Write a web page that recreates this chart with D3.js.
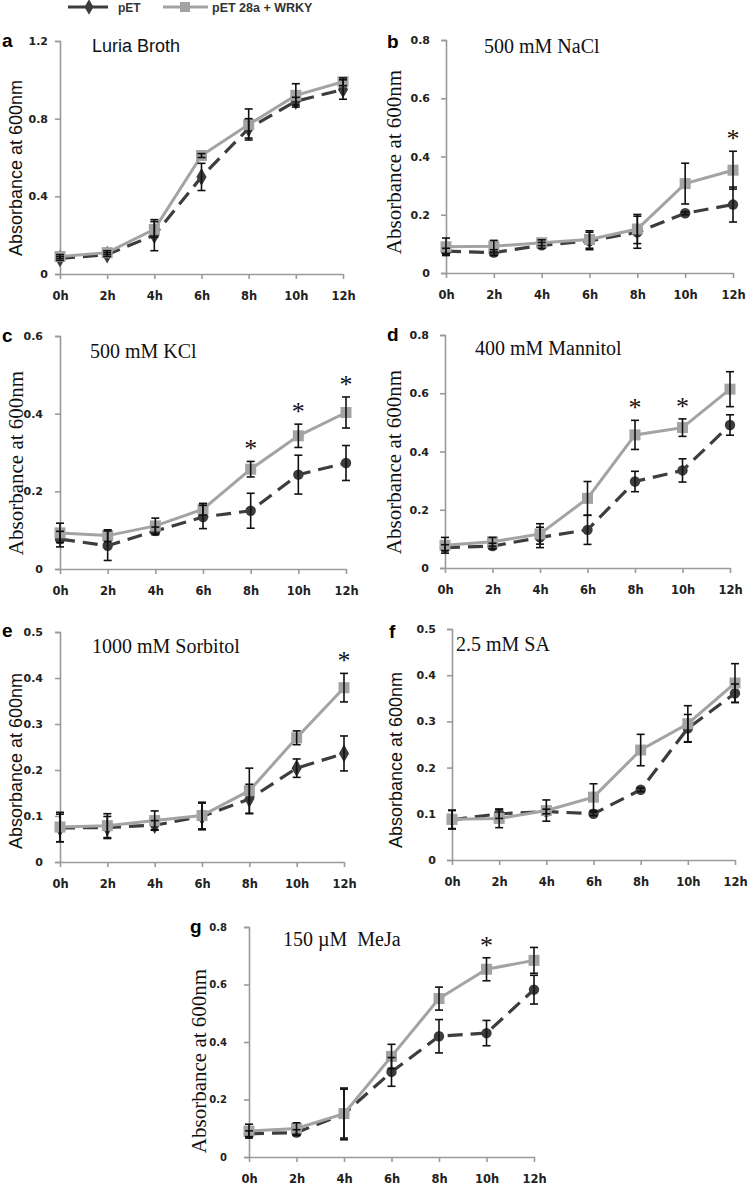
<!DOCTYPE html>
<html><head><meta charset="utf-8">
<script src="https://cdn.jsdelivr.net/npm/d3@7/dist/d3.min.js"></script>
<style>body{margin:0;background:#fff} svg{display:block}</style>
</head><body>
<svg id="c" width="749" height="1186"></svg>
<script>
// ---------- DATA ----------
const times = ["0h","2h","4h","6h","8h","10h","12h"];
const seriesNames = ["pET","pET 28a + WRKY"];
const panelLetters = ["a","b","c","d","e","f","g"];
const panelTitles = ["Luria Broth","500 mM NaCl","500 mM KCl","400 mM Mannitol","1000 mM Sorbitol","2.5 mM SA","150 \u00b5M  MeJa"];
const yMaxes = [1.2, 0.8, 0.6, 0.8, 0.5, 0.5, 0.8];
const yTicksA = [0, 0.4, 0.8, 1.2];
const yTicksB = [0, 0.2, 0.4, 0.6, 0.8];
const yTicksC = [0, 0.2, 0.4, 0.6];
const yTicksE = [0, 0.1, 0.2, 0.3, 0.4, 0.5];

const petA      = [0.08, 0.10, 0.20, 0.50, 0.75, 0.89, 0.95];
const petAErr   = [0.01, 0.01, 0.08, 0.07, 0.05, 0.02, 0.05];
const wrkyA     = [0.09, 0.11, 0.23, 0.61, 0.77, 0.92, 0.99];
const wrkyAErr  = [0.01, 0.01, 0.04, 0.01, 0.08, 0.06, 0.02];

const petB      = [0.075, 0.07, 0.095, 0.11, 0.14, 0.205, 0.235];
const petBErr   = [0.01, 0.01, 0.01, 0.03, 0.055, 0.005, 0.06];
const wrkyB     = [0.09, 0.092, 0.104, 0.115, 0.151, 0.307, 0.353];
const wrkyBErr  = [0.03, 0.02, 0.01, 0.03, 0.05, 0.07, 0.065];

const petC      = [0.077, 0.06, 0.098, 0.134, 0.15, 0.243, 0.273];
const petCErr   = [0.02, 0.038, 0.01, 0.03, 0.045, 0.05, 0.045];
const wrkyC     = [0.093, 0.086, 0.111, 0.154, 0.257, 0.343, 0.403];
const wrkyCErr  = [0.025, 0.015, 0.02, 0.015, 0.02, 0.03, 0.04];

const petD      = [0.07, 0.075, 0.105, 0.131, 0.297, 0.335, 0.491];
const petDErr   = [0.01, 0.01, 0.035, 0.05, 0.035, 0.04, 0.035];
const wrkyD     = [0.078, 0.09, 0.117, 0.239, 0.457, 0.482, 0.614];
const wrkyDErr  = [0.027, 0.015, 0.035, 0.058, 0.05, 0.03, 0.06];

const petE      = [0.074, 0.075, 0.08, 0.099, 0.137, 0.204, 0.236];
const petEErr   = [0.03, 0.024, 0.01, 0.029, 0.032, 0.02, 0.038];
const wrkyE     = [0.076, 0.079, 0.09, 0.101, 0.155, 0.27, 0.379];
const wrkyEErr  = [0.032, 0.026, 0.021, 0.029, 0.049, 0.015, 0.031];

const petF      = [0.087, 0.10, 0.105, 0.10, 0.152, 0.285, 0.361];
const petFErr   = [0.02, 0.01, 0.005, 0.004, 0.004, 0.03, 0.02];
const wrkyF     = [0.088, 0.09, 0.107, 0.136, 0.238, 0.295, 0.383];
const wrkyFErr  = [0.02, 0.02, 0.023, 0.029, 0.034, 0.039, 0.042];

const petG      = [0.081, 0.085, 0.15, 0.296, 0.42, 0.431, 0.582];
const petGErr   = [0.01, 0.01, 0.09, 0.05, 0.058, 0.044, 0.05];
const wrkyG     = [0.09, 0.099, 0.151, 0.35, 0.551, 0.653, 0.684];
const wrkyGErr  = [0.024, 0.02, 0.085, 0.042, 0.04, 0.04, 0.045];

const starsA = [], starsB = [6], starsC = [4,5,6], starsD = [4,5], starsE = [6], starsF = [], starsG = [5];

// ---------- LAYOUT (positions / styles) ----------
const SANS = "'Liberation Sans', Arial, sans-serif";
const WIDE = "'DejaVu Sans', Verdana, sans-serif";
const SERIF = "'Liberation Serif', 'Times New Roman', serif";
const layout = [
  {x0:60,  x1:343, yT:41,   yB:274,  lblR:48,  tf:11, let:[2,47],   tit:[92,52],   titF:SANS,  yl:[16,168],  ylF:SANS,  marker:"diamond"},
  {x0:446, x1:733, yT:40,   yB:273,  lblR:430, tf:11, let:[387,48], tit:[484,53],  titF:SERIF, yl:[394,162], ylF:SERIF, marker:"circle"},
  {x0:60,  x1:346, yT:336,  yB:569,  lblR:43,  tf:11, let:[2,342],  tit:[90,358],  titF:SERIF, yl:[16,463],  ylF:SERIF, marker:"circle"},
  {x0:445, x1:730, yT:335,  yB:568,  lblR:429, tf:11, let:[387,341],tit:[475,355], titF:SERIF, yl:[394,462], ylF:SERIF, marker:"circle"},
  {x0:60,  x1:344, yT:632,  yB:862,  lblR:43,  tf:11, let:[2,637],  tit:[92,653],  titF:SERIF, yl:[16,761],  ylF:SANS,  marker:"diamond"},
  {x0:452, x1:735, yT:629,  yB:860,  lblR:436, tf:11, let:[389,638],tit:[456,651], titF:SERIF, yl:[396,760], ylF:SANS,  marker:"circle"},
  {x0:249, x1:534, yT:927,  yB:1157, lblR:227, tf:10, let:[190,933],tit:[283,946], titF:SERIF, yl:[199,1061],ylF:SERIF, marker:"circle"}
];

const panels = [
  {pet:petA, petErr:petAErr, wrky:wrkyA, wrkyErr:wrkyAErr, ticks:yTicksA, stars:starsA},
  {pet:petB, petErr:petBErr, wrky:wrkyB, wrkyErr:wrkyBErr, ticks:yTicksB, stars:starsB},
  {pet:petC, petErr:petCErr, wrky:wrkyC, wrkyErr:wrkyCErr, ticks:yTicksC, stars:starsC},
  {pet:petD, petErr:petDErr, wrky:wrkyD, wrkyErr:wrkyDErr, ticks:yTicksB, stars:starsD},
  {pet:petE, petErr:petEErr, wrky:wrkyE, wrkyErr:wrkyEErr, ticks:yTicksE, stars:starsE},
  {pet:petF, petErr:petFErr, wrky:wrkyF, wrkyErr:wrkyFErr, ticks:yTicksE, stars:starsF},
  {pet:petG, petErr:petGErr, wrky:wrkyG, wrkyErr:wrkyGErr, ticks:yTicksB, stars:starsG}
];

const AXIS = "#9a9a9a", PETC = "#3d3d3d", WRKYC = "#a3a3a3", TXT = "#222";
const svg = d3.select("#c");

// ---------- LEGEND ----------
const leg = svg.append("g");
leg.append("line").attr("x1",68).attr("x2",108).attr("y1",7).attr("y2",7).attr("stroke",PETC).attr("stroke-width",3);
leg.append("path").attr("d", d3.symbol(d3.symbolDiamond, 70)()).attr("transform","translate(89,7)").attr("fill",PETC);
leg.append("text").attr("x",118).attr("y",11.5).text(seriesNames[0]).attr("font-family",SANS).attr("font-weight","bold").attr("font-size",12).attr("fill","#333");
leg.append("line").attr("x1",163).attr("x2",208).attr("y1",7).attr("y2",7).attr("stroke",WRKYC).attr("stroke-width",3);
leg.append("rect").attr("x",180).attr("y",2).attr("width",10).attr("height",10).attr("fill",WRKYC);
leg.append("text").attr("x",212).attr("y",11.5).text(seriesNames[1]).attr("font-family",SANS).attr("font-weight","bold").attr("font-size",12.5).attr("fill","#333");

// ---------- PANELS ----------
panels.forEach((p, i) => {
  const L = layout[i];
  const g = svg.append("g");
  const x = d3.scalePoint().domain(times).range([L.x0, L.x1]);
  const y = d3.scaleLinear().domain([0, yMaxes[i]]).range([L.yB, L.yT]);

  // y axis
  const ya = g.append("g").attr("transform",`translate(${L.x0},0)`)
    .call(d3.axisLeft(y).tickValues(p.ticks).tickSize(5).tickPadding(L.x0 - L.lblR - 5)
      .tickFormat(d => d === 0 ? "0" : d3.format(".1f")(d)));
  ya.select(".domain").attr("stroke",AXIS).attr("stroke-width",1.6);
  ya.selectAll(".tick line").attr("stroke",AXIS).attr("stroke-width",1.6);
  ya.selectAll(".tick text").attr("font-family",WIDE).attr("font-weight","bold").attr("font-size",L.tf).attr("fill",TXT);

  // x axis
  const xa = g.append("g").attr("transform",`translate(0,${L.yB})`)
    .call(d3.axisBottom(x).tickSize(5).tickPadding(13).tickSizeOuter(0));
  xa.select(".domain").attr("stroke",AXIS).attr("stroke-width",1.6);
  xa.selectAll(".tick line").attr("stroke",AXIS).attr("stroke-width",1.6);
  xa.selectAll(".tick text").attr("font-family",WIDE).attr("font-weight","bold").attr("font-size",11.5).attr("fill",TXT);

  // labels
  g.append("text").attr("x",L.let[0]).attr("y",L.let[1]).text(panelLetters[i])
    .attr("font-family",SANS).attr("font-weight","bold").attr("font-size",19).attr("fill","#000");
  g.append("text").attr("x",L.tit[0]).attr("y",L.tit[1]).text(panelTitles[i])
    .attr("font-family",L.titF).attr("font-size", L.titF === SANS ? 18 : 20).attr("fill","#111")
    .style("white-space","pre");
  g.append("text").attr("transform",`translate(${L.yl[0]},${L.yl[1]}) rotate(-90)`)
    .attr("text-anchor","middle").attr("dominant-baseline","central").text("Absorbance at 600nm")
    .attr("font-family",L.ylF).attr("font-size", L.ylF === SANS ? 18 : 21).attr("fill","#111");

  const line = d3.line().x((d,j) => x(times[j])).y(d => y(d));

  // pET series
  g.append("path").datum(p.pet).attr("d",line).attr("fill","none").attr("stroke",PETC)
    .attr("stroke-width",3.2).attr("stroke-dasharray","15,8");
  const sym = L.marker === "diamond" ? d3.symbol(d3.symbolDiamond, 90) : d3.symbol(d3.symbolCircle, 85);
  g.selectAll(".pm").data(p.pet).enter().append("path")
    .attr("d", sym()).attr("transform",(d,j)=>`translate(${x(times[j])},${y(d)})`).attr("fill",PETC);

  // WRKY series
  g.append("path").datum(p.wrky).attr("d",line).attr("fill","none").attr("stroke",WRKYC).attr("stroke-width",3);
  g.selectAll(".wm").data(p.wrky).enter().append("rect")
    .attr("x",(d,j)=>x(times[j])-5.5).attr("y",d=>y(d)-5.5).attr("width",11).attr("height",11).attr("fill",WRKYC);

  // error bars
  const drawErr = (vals, errs) => {
    vals.forEach((v, j) => {
      const e = errs[j]; if (!e) return;
      const cx = x(times[j]), t = y(v + e), b = y(v - e);
      g.append("line").attr("x1",cx).attr("x2",cx).attr("y1",t).attr("y2",b).attr("stroke","#111").attr("stroke-width",1.6);
      [t,b].forEach(yy => g.append("line").attr("x1",cx-4).attr("x2",cx+4).attr("y1",yy).attr("y2",yy).attr("stroke","#111").attr("stroke-width",1.6));
    });
  };
  drawErr(p.pet, p.petErr);
  drawErr(p.wrky, p.wrkyErr);

  // significance stars
  p.stars.forEach(j => {
    g.append("text").attr("x",x(times[j])).attr("y",y(p.wrky[j] + p.wrkyErr[j]) - 4)
      .attr("text-anchor","middle").text("*")
      .attr("font-family",SERIF).attr("font-size",26).attr("fill","#111");
  });
});
</script>
</body></html>
